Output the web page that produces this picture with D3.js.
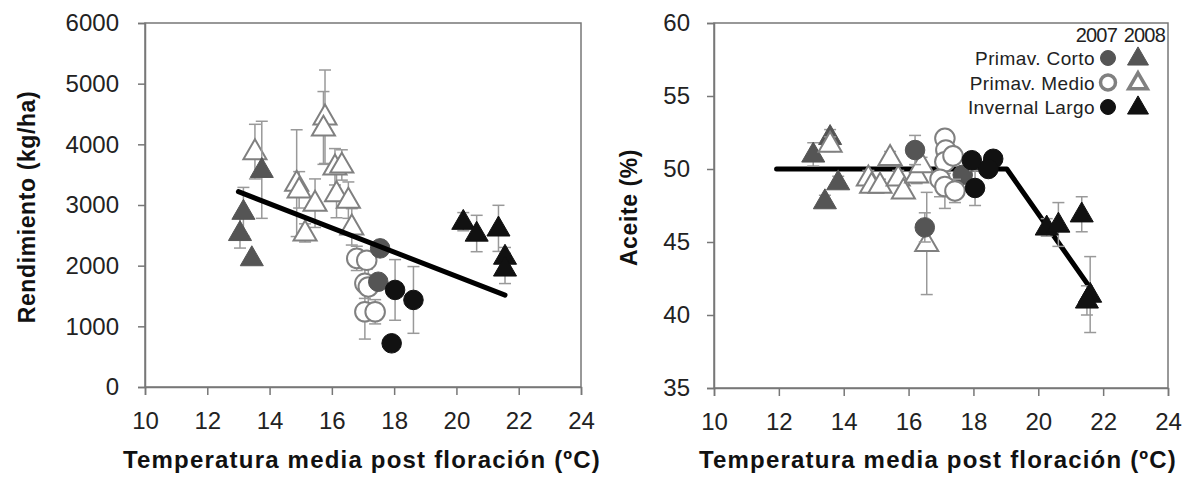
<!DOCTYPE html>
<html>
<head>
<meta charset="utf-8">
<script src="https://cdn.jsdelivr.net/npm/d3@7"></script>
<style>
  body { margin: 0; background: #fff; }
  svg { font-family: "Liberation Sans", Arial, sans-serif; }
</style>
</head>
<body>
<svg id="chart" width="1187" height="480"></svg>
<script>
// temperatura, valor, error
var xTicks = [10, 12, 14, 16, 18, 20, 22, 24]
var yTicksRend = [0, 1000, 2000, 3000, 4000, 5000, 6000]
var yTicksAceite = [35, 40, 45, 50, 55, 60]

// Rendimiento (kg/ha)
var rendCorto07 = [[17.55, 2285, 100], [17.49, 1735, 100]]
var rendCorto08 = [[13.75, 3580, 800], [13.16, 2890, 400], [13.05, 2540, 250], [13.43, 2125, 0]]
var rendMedio07 = [[16.8, 2120, 200], [17.12, 2090, 150], [17.06, 1710, 250], [17.17, 1650, 400], [17.06, 1240, 450], [17.39, 1240, 200]]
var rendMedio08 = [[13.53, 3880, 450], [14.87, 3360, 880], [14.95, 3250, 300], [15.14, 2540, 150], [15.46, 3030, 400],
  [15.78, 4455, 770], [15.73, 4270, 600], [16.1, 3630, 300], [16.32, 3660, 250], [16.15, 3190, 400], [16.53, 3080, 300], [16.64, 2640, 300]]
var rendLargo07 = [[18.03, 1600, 500], [18.62, 1435, 550], [17.92, 720, 0]]
var rendLargo08 = [[20.22, 2725, 150], [20.65, 2530, 300], [21.35, 2615, 380], [21.56, 2150, 150], [21.56, 1955, 250]]
var rendLinea = [[13.0, 3220], [21.56, 1515]]

// Aceite (%)
var acCorto07 = [[16.2, 51.3, 1.0], [16.5, 46.0, 1.0], [17.67, 49.6, 0.5]]
var acCorto08 = [[13.06, 51.0, 0.8], [13.58, 52.2, 0.5], [13.83, 49.1, 0.4], [13.42, 47.8, 0.4]]
var acMedio07 = [[17.12, 52.1, 0.5], [17.15, 51.3, 0.6], [17.12, 50.5, 0.8], [16.97, 49.3, 1.2], [17.12, 48.8, 1.5], [17.43, 48.5, 0.8], [17.37, 50.9, 0.5]]
var acMedio08 = [[13.58, 51.7, 0.5], [14.76, 49.4, 0.5], [14.86, 48.9, 0.4], [15.43, 50.8, 0.4], [15.12, 48.9, 0.4],
  [15.68, 49.4, 0.5], [15.84, 48.5, 0.4], [16.25, 49.6, 0.6], [16.4, 50.3, 0.5], [16.56, 44.9, 3.5]]
var acLargo07 = [[17.95, 50.6, 0.5], [18.61, 50.7, 0.5], [18.46, 50.0, 0.5], [18.05, 48.7, 1.2]]
var acLargo08 = [[20.26, 46.0, 0.6], [20.62, 46.2, 1.5], [21.34, 46.9, 1.2], [21.6, 41.4, 2.6], [21.5, 41.0, 1.0]]
var acLinea = [[11.93, 50], [19.03, 50], [21.65, 41.7]]

var legendRows = ["Primav. Corto", "Primav. Medio", "Invernal Largo"]
var legendYears = ["2007", "2008"]

var estilos = {
  corto: { fill: "#555", stroke: "#555" },
  medio: { fill: "#fff", stroke: "#808080" },
  largo: { fill: "#111", stroke: "#111" }
}

var svg = d3.select("#chart")

function panel(opts) {
  var xScale = d3.scaleLinear().domain([10, 24]).range([opts.left, opts.right])
  var yScale = d3.scaleLinear().domain(opts.yDomain).range([opts.bottom, opts.top])
  var g = svg.append("g")

  // caja
  g.append("rect")
    .attr("x", opts.left).attr("y", opts.top)
    .attr("width", opts.right - opts.left).attr("height", opts.bottom - opts.top)
    .attr("fill", "none").attr("stroke", "#777").attr("stroke-width", 1.5)

  var xAxis = g.append("g")
    .attr("transform", `translate(0,${opts.bottom})`)
    .call(d3.axisBottom(xScale).tickValues(xTicks).tickSize(8).tickPadding(17).tickFormat(d3.format("d")))
  var yAxis = g.append("g")
    .attr("transform", `translate(${opts.left},0)`)
    .call(d3.axisLeft(yScale).tickValues(opts.yTicks).tickSize(7).tickPadding(opts.yPad).tickFormat(d3.format("d")))
  ;[xAxis, yAxis].forEach(a => {
    a.select(".domain").attr("stroke", "#777").attr("stroke-width", 1.5)
    a.selectAll(".tick line").attr("stroke", "#777").attr("stroke-width", 1.5)
    a.selectAll(".tick text").attr("font-size", 24).attr("fill", "#222")
  })

  g.append("text")
    .attr("x", opts.titleXc).attr("y", 468)
    .attr("text-anchor", "middle").attr("font-weight", "bold").attr("font-size", 24).attr("fill", "#111")
    .style("letter-spacing", "1.2px")
    .text("Temperatura media post floración (ºC)")
  g.append("text")
    .attr("transform", `translate(${opts.titleX},${(opts.top + opts.bottom) / 2 + 2}) rotate(-90)`)
    .attr("text-anchor", "middle").attr("dy", "0.36em").attr("font-weight", "bold").attr("font-size", 23).attr("fill", "#111")
    .style("letter-spacing", "0.6px")
    .text(opts.yTitle)

  var lineGen = d3.line().x(d => xScale(d[0])).y(d => yScale(d[1]))
  function linea() {
    g.append("path").datum(opts.linea)
      .attr("d", lineGen).attr("fill", "none").attr("stroke", "#000")
      .attr("stroke-width", 5).attr("stroke-linecap", "round").attr("stroke-linejoin", "round")
  }
  if (!opts.lineaEncima) linea()

  opts.series.forEach(s => {
    var eg = g.append("g").attr("stroke", "#999").attr("stroke-width", 1.5)
    s.data.filter(d => d[2] > 0).forEach(d => {
      var x = xScale(d[0]), y1 = yScale(d[1] + d[2]), y2 = yScale(d[1] - d[2])
      eg.append("line").attr("x1", x).attr("x2", x).attr("y1", y1).attr("y2", y2)
      eg.append("line").attr("x1", x - 6).attr("x2", x + 6).attr("y1", y1).attr("y2", y1)
      eg.append("line").attr("x1", x - 6).attr("x2", x + 6).attr("y1", y2).attr("y2", y2)
    })
    var st = estilos[s.tipo]
    var sym = d3.symbol().type(s.forma === "tri" ? d3.symbolTriangle : d3.symbolCircle)
      .size(s.forma === "tri" ? 230 : 300)
    g.append("g").selectAll("path")
      .data(s.data)
      .enter()
      .append("path")
      .attr("d", sym)
      .attr("transform", d => `translate(${xScale(d[0])},${yScale(d[1]) + (s.forma === "tri" ? 1 : 0)})`)
      .attr("fill", st.fill).attr("stroke", st.stroke).attr("stroke-width", s.tipo === "medio" ? 2 : 1)
  })

  if (opts.lineaEncima) linea()
  return g
}

panel({
  left: 145, right: 581, top: 23, bottom: 387,
  yDomain: [0, 6000], yTicks: yTicksRend, yTitle: "Rendimiento (kg/ha)", titleX: 27, titleXc: 362, yPad: 19,
  linea: rendLinea, lineaEncima: true,
  series: [
    { data: rendMedio08, tipo: "medio", forma: "tri" },
    { data: rendCorto08, tipo: "corto", forma: "tri" },
    { data: rendLargo08, tipo: "largo", forma: "tri" },
    { data: rendMedio07, tipo: "medio", forma: "circ" },
    { data: rendCorto07, tipo: "corto", forma: "circ" },
    { data: rendLargo07, tipo: "largo", forma: "circ" }
  ]
})

var panelDer = panel({
  left: 714, right: 1168, top: 23, bottom: 388,
  yDomain: [35, 60], yTicks: yTicksAceite, yTitle: "Aceite (%)", titleX: 629, titleXc: 938, yPad: 17,
  linea: acLinea, lineaEncima: false,
  series: [
    { data: acCorto08, tipo: "corto", forma: "tri" },
    { data: acMedio08, tipo: "medio", forma: "tri" },
    { data: acCorto07, tipo: "corto", forma: "circ" },
    { data: acMedio07, tipo: "medio", forma: "circ" },
    { data: acLargo07, tipo: "largo", forma: "circ" },
    { data: acLargo08, tipo: "largo", forma: "tri" }
  ]
})

// leyenda
var leg = panelDer.append("g")
leg.selectAll("text.year")
  .data(legendYears)
  .enter()
  .append("text")
  .attr("x", (d, i) => 1117 + i * 48).attr("y", 42)
  .attr("text-anchor", "end").attr("font-size", 20).attr("fill", "#222")
  .style("letter-spacing", "-0.8px")
  .text(d => d)
var tipos = ["corto", "medio", "largo"]
legendRows.forEach((r, i) => {
  var y = 58 + i * 24.5
  leg.append("text").attr("x", 1095).attr("y", y + 7)
    .attr("text-anchor", "end").attr("font-size", 19).attr("fill", "#222")
    .style("letter-spacing", "0.4px")
    .text(r)
  var st = estilos[tipos[i]]
  leg.append("circle").attr("cx", 1108).attr("cy", y).attr("r", 7.5)
    .attr("fill", st.fill).attr("stroke", st.stroke).attr("stroke-width", tipos[i] === "medio" ? 3.5 : 1)
  leg.append("path").attr("d", d3.symbol().type(d3.symbolTriangle).size(tipos[i] === "medio" ? 150 : 190))
    .attr("transform", `translate(1138,${y + 1})`)
    .attr("fill", st.fill).attr("stroke", st.stroke).attr("stroke-width", tipos[i] === "medio" ? 3.5 : 1)
})
</script>
</body>
</html>
